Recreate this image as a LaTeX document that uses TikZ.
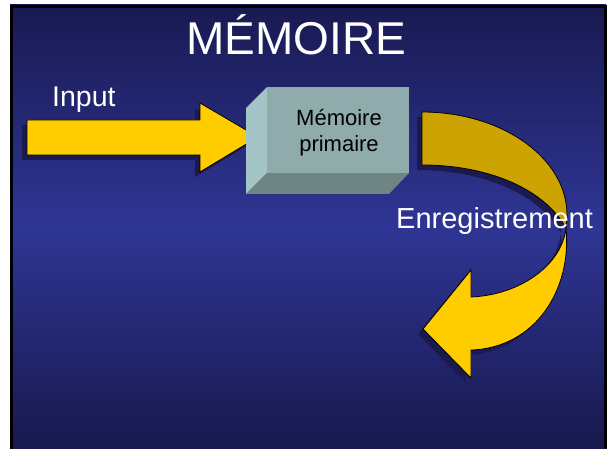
\documentclass[tikz,border=0pt]{standalone}
\usepackage{fontspec}
\setmainfont{Liberation Sans}
\definecolor{slidetop}{RGB}{25,26,82}
\definecolor{slidemid}{RGB}{47,53,148}
\definecolor{slidebot}{RGB}{24,25,78}
\definecolor{arrowyel}{RGB}{255,204,0}
\definecolor{arrowdark}{RGB}{204,163,0}
\definecolor{shadowcol}{RGB}{26,26,78}
\definecolor{boxfront}{RGB}{143,171,171}
\definecolor{boxleft}{RGB}{164,197,199}
\definecolor{boxbottom}{RGB}{111,133,132}
\tikzset{
  arrowpart/.style={draw=black, line width=0.8pt, line join=miter},
  shadowpart/.style={fill=shadowcol},
  whitetext/.style={text=white, inner sep=0pt, anchor=base west},
}
\begin{document}
\begin{tikzpicture}[x=1pt,y=-1pt]
\useasboundingbox (0,0) rectangle (610,449);
% slide background
\shade[top color=slidetop, bottom color=slidebot, middle color=slidemid] (10,5) rectangle (606,449);
\draw[black, line width=3pt] (11.5,449) -- (11.5,6.5) -- (605,6.5) -- (605,449);

% title
\node[text=white, inner sep=0pt, anchor=base] (title) at (296,55) {\fontsize{46}{46}\selectfont MÉMOIRE};

% input arrow
\fill[shadowpart] (22,125) -- (195,125) -- (195,108) -- (253,142) -- (195,177) -- (195,160) -- (22,160) -- cycle;
\filldraw[arrowpart, fill=arrowyel] (27,120) -- (200,120) -- (200,103) -- (258,137) -- (200,172) -- (200,155) -- (27,155) -- cycle;
\node[whitetext] (input) at (52,107) {\fontsize{28.5}{28.5}\selectfont Input};

% box
\fill[boxleft] (246,108) -- (267,87) -- (267,173) -- (246,194) -- cycle;
\fill[boxbottom] (246,194) -- (267,173) -- (409,173) -- (389,194) -- cycle;
\fill[boxfront] (267,87) rectangle (409,173);
\node[align=center, text=black, inner sep=0pt, font=\fontsize{22}{26}\selectfont] (box) at (339,133) {Mémoire\\primaire};

% curved arrow shadow
\begin{scope}[shift={(-5,5)}]
\fill[shadowpart] (422,112) .. controls (502,112) and (567,158) .. (567,215) -- (566,228)
  .. controls (545,190) and (490,165) .. (422,165) -- cycle;
\fill[shadowpart] (566,228) .. controls (572,290) and (535,348) .. (471,350) -- (471,378) -- (423,329) -- (471,270) -- (471,297)
  .. controls (520,295) and (562,265) .. (566,228) -- cycle;
\end{scope}
% curved arrow light part
\filldraw[arrowpart, fill=arrowyel] (566,228) .. controls (572,290) and (535,348) .. (471,350) -- (471,378) -- (423,329) -- (471,270) -- (471,297)
  .. controls (520,295) and (562,265) .. (566,228) -- cycle;
% curved arrow dark part
\filldraw[arrowpart, fill=arrowdark] (422,112) .. controls (502,112) and (567,158) .. (567,215) -- (566,228)
  .. controls (545,190) and (490,165) .. (422,165) -- cycle;

\node[whitetext] (enreg) at (396,228) {\fontsize{29}{29}\selectfont Enregistrement};
\end{tikzpicture}
\end{document}
